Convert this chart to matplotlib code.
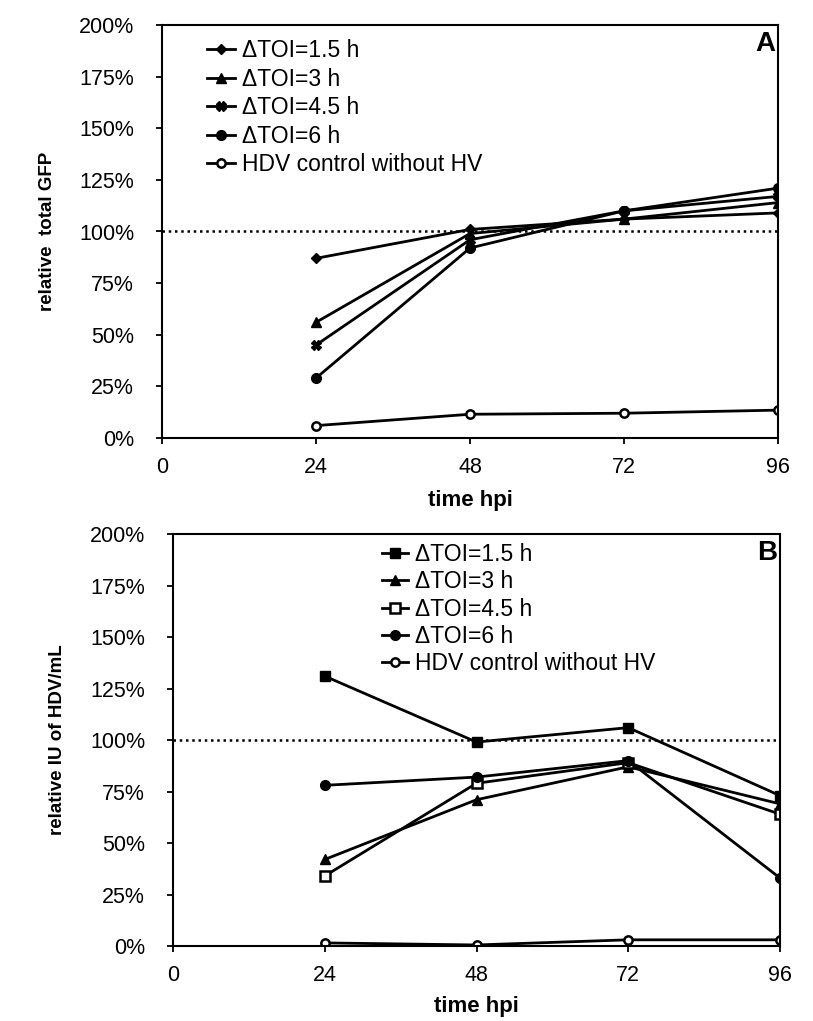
import matplotlib
matplotlib.use("Agg")
import matplotlib.pyplot as plt
from matplotlib.ticker import PercentFormatter

plt.rcParams["font.family"] = ["Liberation Sans", "DejaVu Sans"]

# data
hpi = [24, 48, 72, 96]
labels = ["\u0394TOI=1.5 h", "\u0394TOI=3 h", "\u0394TOI=4.5 h", "\u0394TOI=6 h",
          "HDV control without HV"]

gfp_15 = [87, 101, 106, 109]
gfp_3 = [56, 99, 106, 114]
gfp_45 = [45, 96, 110, 117]
gfp_6 = [29, 92, 110, 121]
gfp_ctrl = [6, 11.5, 12, 13.5]

iu_15 = [131, 99, 106, 73]
iu_3 = [42, 71, 87, 69]
iu_45 = [34, 79, 89, 64]
iu_6 = [78, 82, 90, 33]
iu_ctrl = [1.5, 0.5, 3, 3]

x_ticks = [0, 24, 48, 72, 96]
y_ticks = [0, 25, 50, 75, 100, 125, 150, 175, 200]

W, H = 813, 1021
fig = plt.figure(figsize=(W / 100, H / 100), dpi=100, facecolor="white")
# axes boxes in pixels: left, top, right, bottom
axA = fig.add_axes([162 / W, 1 - 438 / H, 616 / W, 413 / H])
axB = fig.add_axes([173 / W, 1 - 946 / H, 607 / W, 412 / H])


def style(ax, ylabel, letter, ylab_x, xlab_y):
    ax.set_xlim(0, 96)
    ax.set_ylim(0, 200)
    ax.set_xticks(x_ticks)
    ax.set_yticks(y_ticks)
    ax.yaxis.set_major_formatter(PercentFormatter(decimals=0))
    ax.tick_params(direction="out", length=4, width=1.3, labelsize=15.5)
    ax.tick_params(axis="y", pad=16)
    ax.tick_params(axis="x", pad=10)
    for s in ax.spines.values():
        s.set_linewidth(1.5)
    ax.axhline(100, color="black", linestyle=(0, (1, 1.5)), lw=1.8, zorder=1)
    ax.set_xlabel("time hpi", fontsize=16, fontweight="bold")
    ax.set_ylabel(ylabel, fontsize=13.5, fontweight="bold")
    ax.yaxis.set_label_coords(ylab_x, 0.5)
    ax.xaxis.set_label_coords(0.5, xlab_y)
    ax.text(0.996, 0.985, letter, transform=ax.transAxes, ha="right", va="top",
            fontsize=20, fontweight="bold")


lk = dict(color="black", lw=2, markersize=7)
leg_kw = dict(loc="upper left", frameon=False, fontsize=16.5, borderaxespad=0,
              borderpad=0, handletextpad=0.33)

# panel A
axA.plot(hpi, gfp_15, marker="D", markersize=5.5, color="black", lw=2, label=labels[0])
axA.plot(hpi, gfp_3, marker="^", label=labels[1], **lk)
axA.plot(hpi, gfp_45, marker="X", label=labels[2], **lk)
axA.plot(hpi, gfp_6, marker="o", label=labels[3], **lk)
axA.plot(hpi, gfp_ctrl, marker="o", mfc="white", mew=1.8, markersize=6,
         color="black", lw=2, label=labels[4])
style(axA, "relative  total GFP", "A", -0.172, -0.126)
axA.legend(bbox_to_anchor=(0.073, 0.966), handlelength=1.22, labelspacing=0.24,
           **leg_kw)

# panel B
axB.plot(hpi, iu_15, marker="s", label=labels[0], **lk)
axB.plot(hpi, iu_3, marker="^", label=labels[1], **lk)
axB.plot(hpi, iu_45, marker="s", mfc="white", mew=1.8, label=labels[2], **lk)
axB.plot(hpi, iu_6, marker="o", label=labels[3], **lk)
axB.plot(hpi, iu_ctrl, marker="o", mfc="white", mew=1.8, markersize=6,
         color="black", lw=2, label=labels[4])
style(axB, "relative IU of HDV/mL", "B", -0.176, -0.121)
axB.legend(bbox_to_anchor=(0.344, 0.978), handlelength=1.13, labelspacing=0.19,
           **leg_kw)

plt.savefig("out.png", dpi=100)
